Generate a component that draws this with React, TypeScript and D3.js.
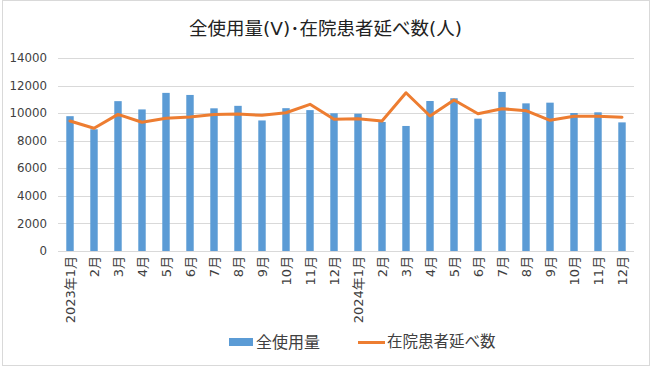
import React, { useEffect, useRef } from 'react'
import * as d3 from 'd3'

const months = [
  '2023年1月', '2月', '3月', '4月', '5月', '6月', '7月', '8月', '9月', '10月', '11月', '12月',
  '2024年1月', '2月', '3月', '4月', '5月', '6月', '7月', '8月', '9月', '10月', '11月', '12月',
]
const usage = [
  9780, 8830, 10870, 10270, 11470, 11320, 10350, 10530, 9470, 10360, 10220, 9990,
  9960, 9360, 9070, 10880, 11080, 9600, 11540, 10710, 10760, 10010, 10060, 9330,
]
const patients = [
  9430, 8900, 9910, 9340, 9630, 9720, 9910, 9940, 9840, 10030, 10640, 9560,
  9600, 9430, 11480, 9790, 10950, 9960, 10320, 10180, 9480, 9770, 9770, 9700,
]
const yTicks = [0, 2000, 4000, 6000, 8000, 10000, 12000, 14000]

const W = 661
const H = 379
const font = '"DejaVu Sans", "Noto Sans CJK JP", sans-serif'

export default function App() {
  const ref = useRef<SVGSVGElement>(null)

  useEffect(() => {
    document.body.style.margin = '0'
    const svg = d3.select(ref.current)
    svg.selectAll('*').remove()

    const left = 58
    const right = 634
    const top = 58
    const bottom = 251

    const idx = months.map((_, i) => String(i))
    const x = d3.scaleBand().domain(idx).range([left, right]).paddingInner(0.69).paddingOuter(0.345)
    const y = d3.scaleLinear().domain([0, 14000]).range([bottom, top])

    // frame
    svg.append('rect')
      .attr('x', 2.5).attr('y', 0.5)
      .attr('width', 647).attr('height', 365)
      .attr('fill', 'white')
      .attr('stroke', '#d9d9d9')

    svg.append('text')
      .attr('x', 325.5).attr('y', 35)
      .attr('text-anchor', 'middle')
      .style('font-family', font)
      .style('font-size', '18.5px')
      .attr('fill', '#222')
      .text('全使用量(V)･在院患者延べ数(人)')

    // grid
    svg.append('g')
      .selectAll('line')
      .data(yTicks)
      .join('line')
      .attr('x1', left).attr('x2', right)
      .attr('y1', d => Math.round(y(d)) + 0.5)
      .attr('y2', d => Math.round(y(d)) + 0.5)
      .attr('stroke', '#d9d9d9')
      .attr('stroke-width', 1)

    svg.append('g')
      .selectAll('text')
      .data(yTicks)
      .join('text')
      .attr('x', 47)
      .attr('y', d => y(d))
      .attr('dy', '0.35em')
      .attr('text-anchor', 'end')
      .style('font-family', font)
      .style('font-size', '11.8px')
      .attr('fill', '#404040')
      .text(d => d)

    // bars
    svg.append('g')
      .selectAll('rect')
      .data(usage)
      .join('rect')
      .attr('x', (_, i) => x(String(i))!)
      .attr('width', x.bandwidth())
      .attr('y', d => y(d))
      .attr('height', d => y(0) - y(d))
      .attr('fill', '#5b9bd5')

    // line
    const line = d3.line<number>()
      .x((_, i) => x(String(i))! + x.bandwidth() / 2)
      .y(d => y(d))
    svg.append('path')
      .datum(patients)
      .attr('d', line)
      .attr('fill', 'none')
      .attr('stroke', '#ed7d31')
      .attr('stroke-width', 3)
      .attr('stroke-linejoin', 'round')
      .attr('stroke-linecap', 'round')

    // x labels
    svg.append('g')
      .selectAll('text')
      .data(months)
      .join('text')
      .attr('transform', (_, i) => `translate(${x(String(i))! + x.bandwidth() / 2}, 256) rotate(-90)`)
      .attr('text-anchor', 'end')
      .attr('dy', '0.35em')
      .style('font-family', font)
      .style('font-size', '13px')
      .attr('fill', '#404040')
      .text(d => d)

    // legend
    const lg = svg.append('g')
    lg.append('rect')
      .attr('x', 229).attr('y', 338)
      .attr('width', 24).attr('height', 8)
      .attr('fill', '#5b9bd5')
    lg.append('text')
      .attr('x', 256).attr('y', 342).attr('dy', '0.35em')
      .style('font-family', font).style('font-size', '16px')
      .attr('fill', '#404040')
      .text('全使用量')
    lg.append('line')
      .attr('x1', 358).attr('x2', 385)
      .attr('y1', 342.5).attr('y2', 342.5)
      .attr('stroke', '#ed7d31').attr('stroke-width', 3)
    lg.append('text')
      .attr('x', 387).attr('y', 342).attr('dy', '0.35em')
      .style('font-family', font).style('font-size', '15.5px')
      .attr('fill', '#404040')
      .text('在院患者延べ数')
  }, [])

  return <svg ref={ref} width={W} height={H} style={{ display: 'block', background: 'white' }} />
}
